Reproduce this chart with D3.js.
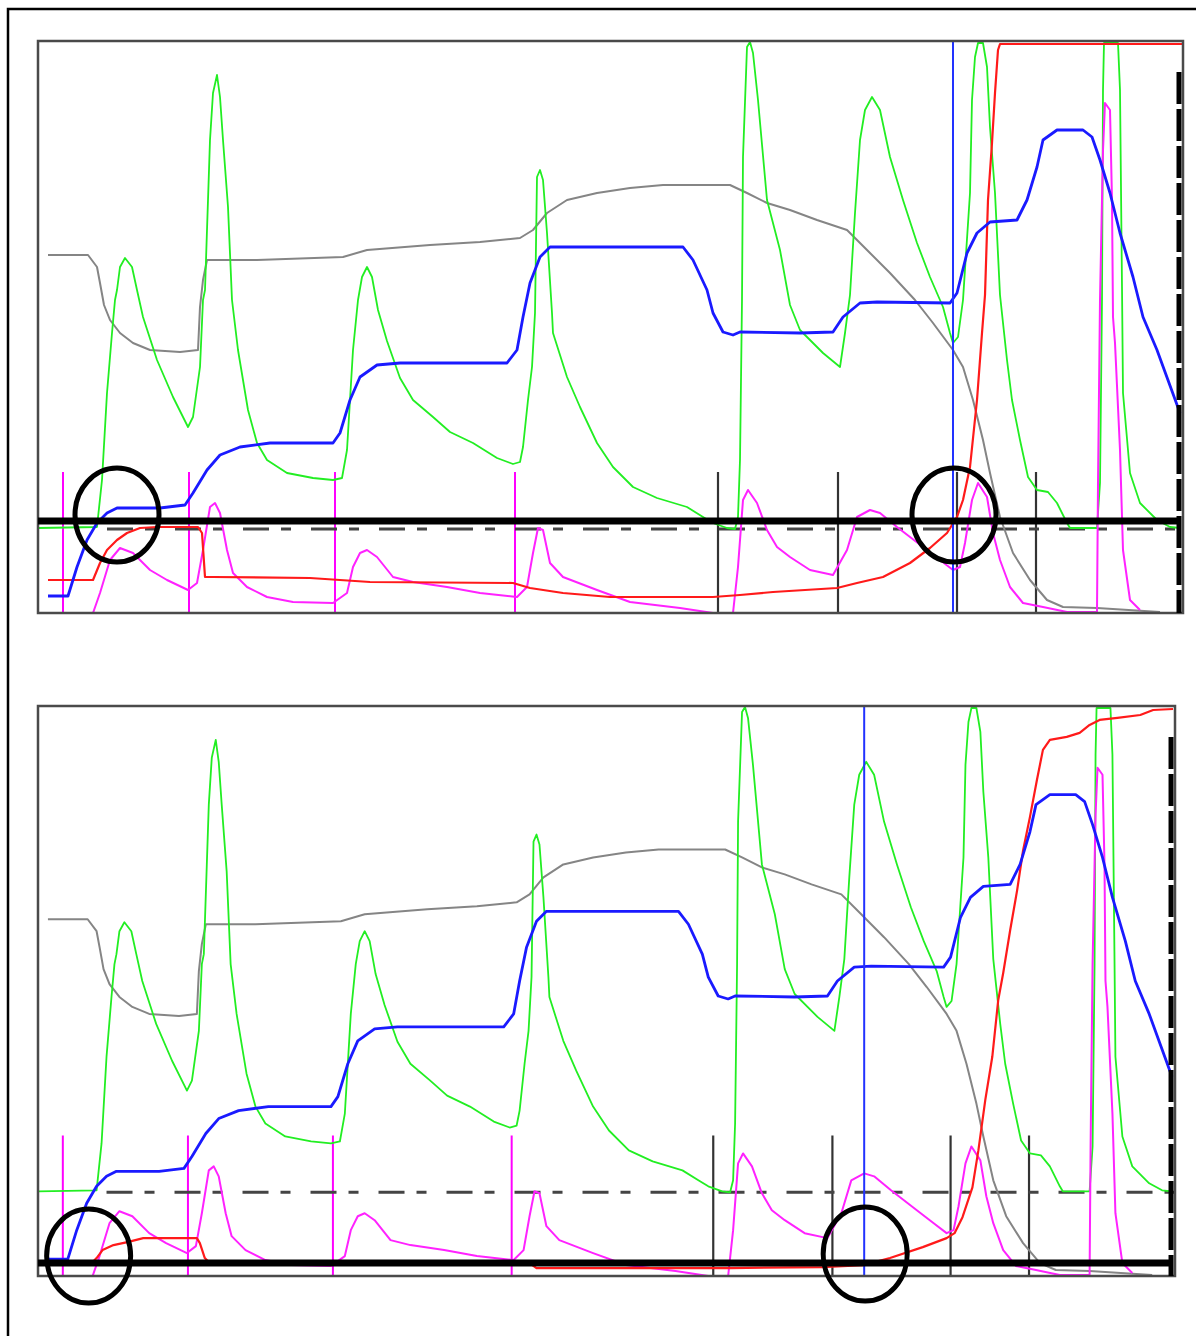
<!DOCTYPE html>
<html>
<head>
<meta charset="utf-8">
<script src="https://cdn.jsdelivr.net/npm/d3@7"></script>
<style>
  html, body { margin: 0; padding: 0; background: #fff; }
  svg { display: block; }
</style>
</head>
<body>
<svg id="chart" width="1196" height="1336"></svg>
<script>
// Elution volume (x) and signal level (y) share one data space for both runs.
const xDomain = [0, 114.5];
const yDomain = [0, 57.2];

// UV trace (green)
const uvTrace = [
  [0,8.5],[5.9,8.6],[6.4,13.3],[6.9,22.0],[7.4,28.0],[7.7,31.3],[7.9,32.3],[8.2,34.6],[8.7,35.5],
  [9.4,34.6],[9.9,32.3],[10.5,29.6],[11.9,25.3],[13.5,21.6],[15.0,18.6],[15.5,19.6],
  [16.2,24.6],[16.5,31.3],[16.7,32.3],[17.0,41.3],[17.2,47.3],[17.5,52.0],[17.9,53.8],[18.2,51.6],
  [18.5,47.3],[19.0,40.6],[19.4,31.3],[20.0,26.3],[21.0,20.3],[21.9,17.0],[22.9,15.3],[24.9,14.0],
  [27.5,13.5],[29.5,13.3],[30.4,13.5],[30.9,16.3],[31.2,21.3],[31.5,26.3],[32.0,31.3],[32.4,33.6],
  [32.9,34.6],[33.4,33.6],[34.0,30.3],[34.9,27.2],[36.2,23.5],[37.5,21.3],[39.5,19.6],[41.2,18.1],
  [43.5,17.0],[45.9,15.5],[47.5,14.9],[48.2,15.1],[48.5,16.6],[49.0,21.3],[49.4,24.6],[49.7,30.0],
  [49.9,43.6],[50.2,44.3],[50.5,43.3],[50.9,38.0],[51.4,30.0],[51.5,28.0],[52.9,23.6],[54.2,20.6],
  [55.9,17.0],[57.5,14.6],[59.5,12.6],[61.9,11.5],[64.9,10.6],[66.5,9.6],[67.5,9.0],[68.9,8.5],
  [69.7,8.4],[70.0,9.6],[70.2,15.3],[70.4,31.3],[70.5,45.6],[70.9,56.6],[71.2,57.1],[71.5,56.0],
  [72.0,51.3],[72.9,41.3],[74.2,36.3],[75.2,30.8],[76.2,28.3],[78.5,26.0],[80.2,24.6],[80.7,28.0],
  [81.2,31.8],[81.7,40.0],[82.2,47.3],[82.7,50.3],[83.4,51.6],[84.2,50.3],[85.2,45.6],[86.5,41.3],
  [87.9,37.0],[89.2,33.6],[90.5,30.6],[91.2,28.0],[91.5,27.0],[92.0,27.6],[92.5,31.3],[93.2,42.0],
  [93.4,51.3],[93.7,55.6],[94.0,57.0],[94.5,57.0],[94.9,54.6],[95.2,48.6],[95.7,42.0],[96.2,31.8],
  [96.9,25.3],[97.4,21.3],[98.2,17.3],[99.0,13.6],[99.9,12.3],[101.0,12.1],[101.9,11.0],[102.9,9.0],
  [103.2,8.5],[105.9,8.5],[106.2,13.0],[106.4,31.3],[106.5,52.3],[106.6,57.0],[108.0,57.0],[108.2,52.3],
  [108.4,32.6],[108.5,22.0],[109.2,14.0],[110.2,11.0],[111.9,9.3],[113.2,8.6],[114.2,8.5]
];

// Conductivity trace (grey)
const condTrace = [
  [1.0,35.8],[5.0,35.8],[5.9,34.6],[6.2,33.0],[6.6,30.8],[7.2,29.3],[8.2,28.0],[9.5,27.0],[11.2,26.3],
  [14.2,26.1],[16.0,26.3],[16.2,30.6],[16.5,33.3],[16.9,35.3],[21.9,35.3],[30.5,35.6],[32.9,36.3],
  [39.2,36.8],[44.2,37.1],[48.2,37.5],[49.5,38.3],[50.9,40.0],[52.9,41.3],[55.9,42.0],[59.2,42.5],
  [62.5,42.8],[69.2,42.8],[70.9,42.0],[72.9,41.0],[75.2,40.3],[77.9,39.3],[80.9,38.3],[82.9,36.3],
  [85.2,34.0],[87.7,31.3],[89.5,29.0],[91.5,26.3],[92.5,24.6],[93.5,21.3],[94.5,17.3],[95.2,14.0],
  [96.2,9.6],[97.5,6.0],[99.2,3.3],[100.9,1.3],[102.5,0.6],[105.9,0.5],[112.2,0.1]
];

// Gradient / buffer concentration (blue)
const concTrace = [
  [1.0,1.7],[3.0,1.7],[3.9,4.6],[4.9,7.3],[5.9,9.0],[6.9,10.0],[7.9,10.5],[12.2,10.5],[14.7,10.8],
  [15.5,12.0],[16.9,14.3],[18.2,15.8],[20.2,16.6],[23.2,17.0],[29.5,17.0],[30.2,18.0],[31.2,21.3],
  [32.2,23.6],[33.9,24.8],[36.2,25.0],[46.9,25.0],[47.9,26.3],[48.5,29.6],[49.2,33.0],[50.2,35.6],
  [51.2,36.6],[64.5,36.6],[65.5,35.3],[66.9,32.3],[67.5,30.0],[68.5,28.1],[69.5,27.8],[70.2,28.1],
  [76.2,28.0],[79.5,28.1],[80.5,29.6],[82.2,31.0],[83.9,31.1],[91.2,31.0],[91.9,32.0],[92.9,36.0],
  [93.9,38.0],[95.2,39.1],[97.9,39.3],[98.9,41.3],[99.9,44.6],[100.5,47.3],[101.9,48.3],[104.5,48.3],
  [105.4,47.6],[106.2,45.3],[107.2,42.0],[108.2,38.0],[109.5,33.6],[110.5,29.6],[111.9,26.3],[114.2,20.0]
];

// Second UV wavelength (magenta)
const uv2Trace = [
  [5.5,0],[6.2,2.0],[7.2,5.3],[8.2,6.5],[9.5,6.0],[11.2,4.3],[12.9,3.3],[15.0,2.3],[15.9,3.0],
  [16.5,6.3],[17.2,10.6],[17.7,11.0],[18.2,10.0],[18.9,6.3],[19.5,4.0],[20.9,2.6],[22.9,1.6],
  [25.5,1.1],[29.5,1.0],[30.9,2.0],[31.5,4.6],[32.2,6.0],[32.9,6.3],[33.9,5.6],[35.5,3.6],[37.5,3.1],
  [40.9,2.6],[44.2,2.0],[47.9,1.6],[48.9,2.6],[49.5,6.0],[50.0,8.5],[50.5,8.3],[51.2,5.0],[52.5,3.6],
  [55.9,2.3],[59.2,1.1],[64.2,0.5],[67.5,0],[69.5,0],[70.0,4.6],[70.5,11.3],[71.0,12.3],[71.9,11.0],
  [72.9,8.3],[73.9,6.6],[75.2,5.6],[77.2,4.3],[79.5,3.8],[80.9,6.3],[81.9,9.6],[83.2,10.3],[84.2,10.0],
  [85.9,8.6],[88.5,6.6],[90.2,5.3],[91.5,4.3],[92.2,4.6],[92.7,7.0],[93.4,11.3],[94.0,13.0],[94.9,11.6],
  [95.5,8.0],[96.2,5.3],[97.2,2.6],[98.5,1.0],[100.5,0.6],[102.9,0.1],[105.9,0.1],[106.0,13.0],
  [106.2,31.3],[106.5,46.3],[106.7,51.0],[107.2,50.3],[107.4,41.3],[107.5,29.6],[107.7,27.0],
  [108.2,16.3],[108.5,6.3],[109.2,1.3],[110.2,0.3]
];

// Pressure / %B trace (red), one per run
const redTraceA = [
  [1.0,3.3],[5.5,3.3],[6.2,5.0],[6.9,6.3],[7.9,7.3],[8.9,8.0],[10.2,8.5],[11.9,8.6],[16.0,8.6],
  [16.4,8.0],[16.7,3.6],[17.5,3.6],[27.2,3.5],[33.2,3.1],[47.5,3.0],[49.2,2.5],[52.5,2.0],[57.2,1.6],
  [67.5,1.6],[70.2,1.8],[73.5,2.1],[79.9,2.5],[81.9,3.0],[84.5,3.6],[87.2,5.0],[89.2,6.5],[90.9,8.0],
  [91.9,9.6],[92.5,11.3],[93.2,14.6],[93.9,21.3],[94.4,28.0],[94.7,31.8],[95.0,41.3],[95.4,47.0],
  [95.7,52.0],[96.0,56.3],[96.2,56.9],[114.4,56.9]
];
const redTraceB = [
  [1.0,1.4],[5.5,1.4],[5.9,1.8],[6.5,2.6],[7.6,3.1],[9.0,3.4],[10.6,3.8],[16.0,3.8],[16.3,3.3],
  [16.8,1.8],[17.3,1.3],[49.5,1.3],[50.2,0.8],[69.7,0.8],[79.0,0.9],[83.1,1.1],[85.8,1.8],[89.1,2.9],
  [91.5,3.8],[92.3,4.3],[93.1,5.9],[94.1,8.9],[94.7,12.6],[95.4,17.7],[96.1,22.0],[96.7,27.7],
  [97.2,30.4],[97.9,34.7],[98.6,38.7],[99.2,42.7],[99.9,46.1],[100.6,49.8],[101.2,52.8],[101.9,53.8],
  [103.6,54.1],[104.9,54.5],[105.9,55.3],[106.9,55.8],[108.7,56.0],[111.0,56.3],[112.3,56.8],[114.3,56.9]
];

// Fraction marks and event marks
const fractionMarks = [2.5, 15.1, 29.7, 47.7];
const eventMarks = [68.0, 80.0, 91.9, 99.8];
const markTop = 14.1;
const injectionMarkA = 91.5;
const injectionMarkB = 83.2;

// Reference levels
const baselineLevel = 8.4;
const baselineStart = 6.9;
const endMarkX = 114.1;
const endMarkTop = 54.1;

// Highlighted levels and points
const highlightLevelA = 9.2;
const highlightLevelB = 1.3;
const highlightsA = [[7.9, 9.8], [91.6, 9.8]];
const highlightsB = [[5.1, 2.0], [83.3, 2.2]];

const panels = [
  { id: "a", left: 38, top: 41, width: 1145, height: 572, red: redTraceA,
    inject: injectionMarkA, level: highlightLevelA, rings: highlightsA },
  { id: "b", left: 38, top: 706, width: 1137, height: 570, red: redTraceB,
    inject: injectionMarkB, level: highlightLevelB, rings: highlightsB }
];

const svg = d3.select("#chart");

// Outer frame
svg.append("rect")
  .attr("x", 8).attr("y", 9).attr("width", 1200).attr("height", 1340)
  .attr("fill", "none").attr("stroke", "#000").attr("stroke-width", 2.5);

panels.forEach(p => {
  const x = d3.scaleLinear().domain(xDomain).range([p.left, p.left + p.width]);
  const y = d3.scaleLinear().domain(yDomain).range([p.top + p.height, p.top]);
  const g = svg.append("g");

  g.append("clipPath").attr("id", "clip-" + p.id)
    .append("rect")
    .attr("x", p.left).attr("y", p.top).attr("width", p.width).attr("height", p.height);

  const plot = g.append("g").attr("clip-path", `url(#clip-${p.id})`);
  const line = d3.line().x(d => x(d[0])).y(d => y(d[1]));

  // Marks
  plot.selectAll(".frac").data(fractionMarks).join("line")
    .attr("x1", d => x(d)).attr("x2", d => x(d))
    .attr("y1", y(markTop)).attr("y2", y(0))
    .attr("stroke", "#ff00ff").attr("stroke-width", 2);
  plot.selectAll(".evt").data(eventMarks).join("line")
    .attr("x1", d => x(d)).attr("x2", d => x(d))
    .attr("y1", y(markTop)).attr("y2", y(0))
    .attr("stroke", "#333").attr("stroke-width", 2.2);

  // Baseline reference (dash-dot)
  plot.append("line")
    .attr("x1", x(baselineStart)).attr("x2", x(xDomain[1]))
    .attr("y1", y(baselineLevel)).attr("y2", y(baselineLevel))
    .attr("stroke", "#444").attr("stroke-width", 3)
    .attr("stroke-dasharray", "26,12,10,20");

  // Traces
  const traces = [
    { data: condTrace, color: "#858585", w: 2 },
    { data: uvTrace, color: "#22ee22", w: 1.8 },
    { data: uv2Trace, color: "#ff22ff", w: 2 },
    { data: p.red, color: "#ff1a1a", w: 2.2 },
    { data: concTrace, color: "#1a1aff", w: 2.8 }
  ];
  traces.forEach(t => {
    plot.append("path").datum(t.data)
      .attr("d", line)
      .attr("fill", "none")
      .attr("stroke", t.color)
      .attr("stroke-width", t.w)
      .attr("stroke-linejoin", "round");
  });

  // Injection mark
  plot.append("line")
    .attr("x1", x(p.inject)).attr("x2", x(p.inject))
    .attr("y1", y(yDomain[1])).attr("y2", y(0))
    .attr("stroke", "#2233ff").attr("stroke-width", 2);

  // Plot frame
  g.append("rect")
    .attr("x", p.left).attr("y", p.top).attr("width", p.width).attr("height", p.height)
    .attr("fill", "none").attr("stroke", "#4a4a4a").attr("stroke-width", 2.5);

  // End-of-run mark
  g.append("line")
    .attr("x1", x(endMarkX)).attr("x2", x(endMarkX))
    .attr("y1", y(endMarkTop)).attr("y2", y(0))
    .attr("stroke", "#000").attr("stroke-width", 5)
    .attr("stroke-dasharray", "32,5");

  // Highlight level and rings
  g.append("line")
    .attr("x1", x(0)).attr("x2", x(xDomain[1]) - 4)
    .attr("y1", y(p.level)).attr("y2", y(p.level))
    .attr("stroke", "#000").attr("stroke-width", 7);

  g.selectAll(".ring").data(p.rings).join("ellipse")
    .attr("cx", d => x(d[0])).attr("cy", d => y(d[1]))
    .attr("rx", 42).attr("ry", 47)
    .attr("fill", "none").attr("stroke", "#000").attr("stroke-width", 5);
});
</script>
</body>
</html>
